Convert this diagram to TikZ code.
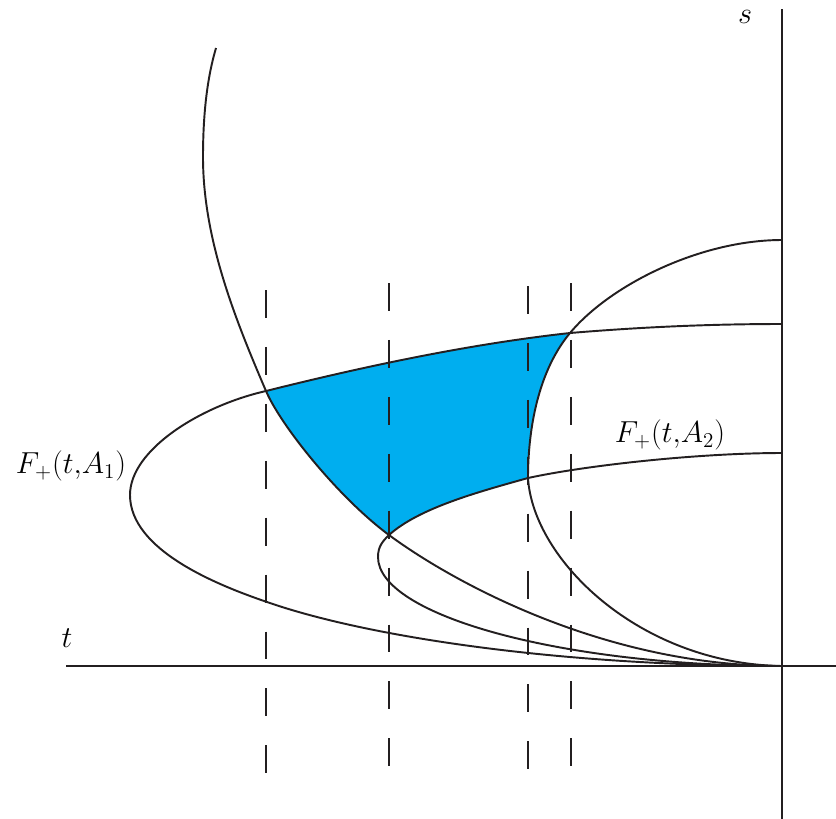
\documentclass[tikz,border=0pt]{standalone}

\begin{document}
\begin{tikzpicture}[x=0.02cm,y=-0.02cm,
  ink/.style={draw={rgb,255:red,35;green,31;blue,32}},
  curve/.style={ink,line width=1.1pt},
  axis/.style={ink,line width=1.3pt},
  cut/.style={ink,line width=1.1pt,dash pattern=on 15.9pt off 16.5pt},
  region/.style={fill={rgb,255:red,0;green,174;blue,239}},
  lab/.style={font=\LARGE,inner sep=0pt}]
\useasboundingbox (0,0) rectangle (836,819);
\coordinate (O) at (782,666);
\coordinate (P1) at (266,391);
\coordinate (P2) at (389,535);
\coordinate (P3) at (528,478);
\coordinate (P4) at (570,333);
% shaded region
\path[region] (P1) .. controls (366,366) and (470,344) .. (P4)
  .. controls (535,375) and (528,438) .. (P3)
  .. controls (478,492) and (419,508) .. (P2)
  .. controls (339,498) and (281,426) .. (P1) -- cycle;
% dashed lines
\foreach \x/\a/\b in {266/290/777, 389/283/771, 528/286/773, 571/283/771}
  \draw[cut] (\x,\a) -- (\x,\b);
% F_+(t,A_1)
\draw[curve] (782,324) .. controls (700,324) and (630,328) .. (P4)
  .. controls (470,344) and (366,366) .. (P1)
  .. controls (200,406) and (130,450) .. (130,495)
  .. controls (130,550) and (217,585) .. (267,602)
  .. controls (367,637) and (560,666) .. (O);
% F_+(t,A_2)
\draw[curve] (782,453) .. controls (700,453) and (588,465) .. (P3)
  .. controls (478,492) and (419,508) .. (P2)
  .. controls (383,541) and (378,546) .. (378,557)
  .. controls (378,615) and (560,666) .. (O);
% fold
\draw[curve] (O) .. controls (600,666) and (447,578) .. (P2)
  .. controls (339,498) and (281,426) .. (P1)
  .. controls (236,321) and (203,240) .. (203,157)
  .. controls (203,110) and (208,75) .. (216,48);
% circle
\draw[curve] (782,240) .. controls (700,240) and (610,285) .. (P4)
  .. controls (535,375) and (528,438) .. (P3)
  .. controls (533,560) and (640,664) .. (O);
% axes
\coordinate (tl) at (66,666);
\coordinate (tr) at (836,666);
\coordinate (st) at (782,9);
\coordinate (sb) at (782,819);
\draw[axis] (tl) -- (tr);
\draw[axis] (st) -- (sb);
\node[lab] (s) at (745,17) {$s$};
\node[lab] (t) at (67,638) {$t$};
\node[lab] (fa) at (71,466) {$F_+(t{,}A_1)$};
\node[lab] (fb) at (670,435) {$F_+(t{,}A_2)$};
\end{tikzpicture}
\end{document}
